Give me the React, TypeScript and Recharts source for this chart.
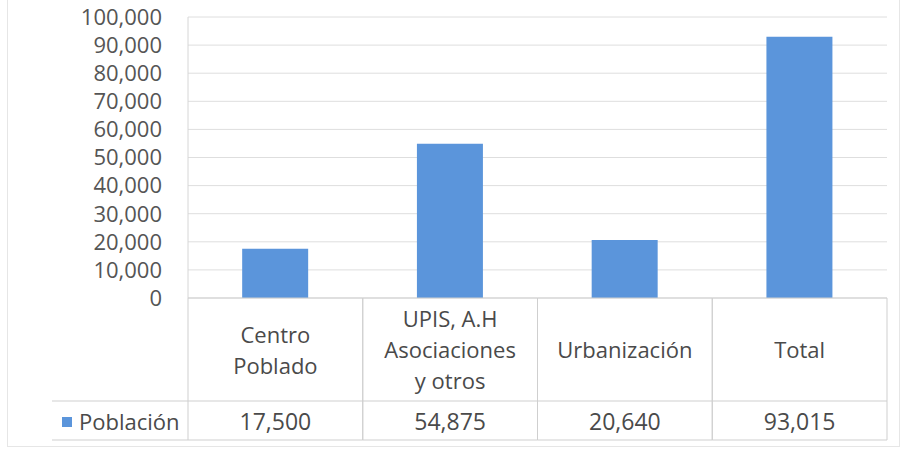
import { BarChart, Bar, XAxis, YAxis, CartesianGrid } from "recharts";

const categories = [
  ["Centro", "Poblado"],
  ["UPIS, A.H", "Asociaciones", "y otros"],
  ["Urbanización"],
  ["Total"],
];
const poblacion = [17500, 54875, 20640, 93015];
const yTicks = [0, 10000, 20000, 30000, 40000, 50000, 60000, 70000, 80000, 90000, 100000];
const seriesName = "Población";

const data = categories.map((lines, i) => ({
  name: lines.join(" "),
  poblacion: poblacion[i],
}));

const W = 905;
const H = 450;
const LEFT = 188;
const RIGHT = 18;
const TOP = 17;
const AXIS_H = 142;
const BOTTOM = 10;
const BAND = (W - LEFT - RIGHT) / categories.length;
const BLUE = "#5b95db";
const LINE = "#cfcfcf";
const FONT = "'Open Sans', sans-serif";
const fmt = (v: number) => v.toLocaleString("en-US");

function TableTick(props: any) {
  const { x, y, index } = props;
  const lines = categories[index];
  const left = x - BAND / 2;
  const right = x + BAND / 2;
  const rowSplit = y + 103;
  const bottom = y + AXIS_H;
  const lh = 31;
  const startY = y + 51 - ((lines.length - 1) * lh) / 2;
  const tableLeft = 52;
  return (
    <g fontFamily={FONT} fontSize={22} fill="#4a4a4a">
      <line x1={left} x2={right} y1={y} y2={y} stroke={LINE} />
      <line x1={left} x2={left} y1={y} y2={bottom} stroke={LINE} />
      <line x1={right} x2={right} y1={y} y2={bottom} stroke={LINE} />
      <line x1={index === 0 ? tableLeft : left} x2={right} y1={rowSplit} y2={rowSplit} stroke={LINE} />
      <line x1={index === 0 ? tableLeft : left} x2={right} y1={bottom} y2={bottom} stroke={LINE} />
      {index === 0 && (
        <>
          <rect x={62} y={rowSplit + 16} width={10} height={10} fill={BLUE} />
          <text x={79} y={rowSplit + 20} dominantBaseline="central" textAnchor="start">
            {seriesName}
          </text>
        </>
      )}
      {lines.map((t, i) => (
        <text key={i} x={x} y={startY + i * lh} textAnchor="middle" dominantBaseline="central">
          {t}
        </text>
      ))}
      <text x={x} y={rowSplit + 20} textAnchor="middle" dominantBaseline="central" fontSize={23}>
        {fmt(poblacion[index])}
      </text>
    </g>
  );
}

export default function App() {
  return (
    <div style={{ position: "absolute", left: 0, top: 0, width: W, height: H, background: "#fff" }}>
      <div
        style={{
          position: "absolute",
          left: 7,
          top: -2,
          width: W - 12,
          height: H - 1,
          border: "1px solid #e6e6e6",
          boxSizing: "border-box",
        }}
      />
      <BarChart
        width={W}
        height={H}
        data={data}
        margin={{ top: TOP, right: RIGHT, left: 0, bottom: BOTTOM }}
        barCategoryGap="31%"
      >
        <CartesianGrid vertical={false} stroke="#dedede" />
        <YAxis
          width={LEFT}
          domain={[0, 100000]}
          ticks={yTicks}
          interval={0}
          tickFormatter={fmt}
          axisLine={{ stroke: "#d6d6d6" }}
          tickLine={false}
          tickMargin={20}
          tick={{ fill: "#555", fontSize: 22, fontFamily: FONT }}
        />
        <XAxis
          dataKey="name"
          height={AXIS_H}
          interval={0}
          axisLine={false}
          tickLine={false}
          tickSize={0}
          tickMargin={0}
          tick={<TableTick />}
        />
        <Bar dataKey="poblacion" name={seriesName} fill={BLUE} isAnimationActive={false} />
      </BarChart>
    </div>
  );
}
